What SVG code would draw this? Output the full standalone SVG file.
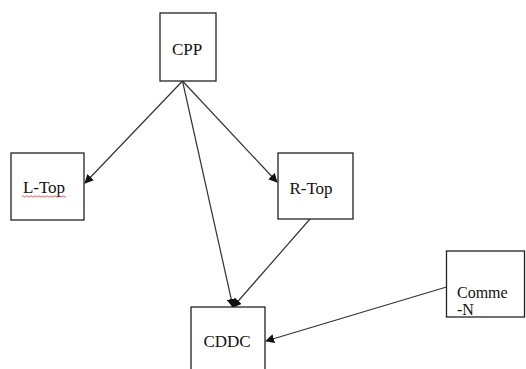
<svg xmlns="http://www.w3.org/2000/svg" width="526" height="369" viewBox="0 0 526 369">
<style>
.box{fill:#fff;stroke:#222;stroke-width:1.3}
.lbl{font-family:"Liberation Serif","DejaVu Serif",serif;font-size:17px;fill:#111}
.sm{font-size:16px}
.edge{fill:none;stroke:#333;stroke-width:1.2;marker-end:url(#ah)}
</style>
<defs>
<marker id="ah" viewBox="0 0 10 10" refX="9" refY="5" markerWidth="9" markerHeight="9" markerUnits="userSpaceOnUse" orient="auto">
<path d="M0,0 L10,5 L0,10 Z" fill="#111"/>
</marker>
</defs>
<rect width="526" height="369" fill="#fff"/>
<g id="connectors">
<line class="edge" x1="182.5" y1="81" x2="85" y2="183"/>
<line class="edge" x1="182.5" y1="81" x2="277" y2="182"/>
<line class="edge" x1="182.5" y1="81" x2="233" y2="307"/>
<line class="edge" x1="310" y1="219" x2="233" y2="307"/>
<line class="edge" x1="446.5" y1="287" x2="266" y2="341"/>
</g>
<g id="CPP">
<rect class="box" x="160" y="13" width="56" height="68"/>
<text class="lbl" x="187" y="55" text-anchor="middle">CPP</text>
</g>
<g id="L-Top">
<rect class="box" x="11" y="153" width="73" height="67"/>
<text class="lbl" x="44" y="193" text-anchor="middle">L-Top</text>
<path d="M22,196.5 q1,-1.5 2,0 t2,0 t2,0 t2,0 t2,0 t2,0 t2,0 t2,0 t2,0 t2,0 t2,0 t2,0 t2,0 t2,0 t2,0 t2,0 t2,0 t2,0 t2,0 t2,0 t2,0 t2,0" fill="none" stroke="#d33" stroke-width="0.8"/>
</g>
<g id="R-Top">
<rect class="box" x="278" y="153" width="75" height="66"/>
<text class="lbl" x="311" y="194" text-anchor="middle">R-Top</text>
</g>
<g id="CDDC">
<rect class="box" x="191" y="307" width="74" height="70"/>
<text class="lbl" x="227" y="347" text-anchor="middle">CDDC</text>
</g>
<g id="Comme-N">
<rect class="box" x="446.5" y="251" width="78" height="66"/>
<text class="lbl sm" x="457" y="298">Comme</text>
<text class="lbl sm" x="457" y="315">-N</text>
</g>
</svg>
